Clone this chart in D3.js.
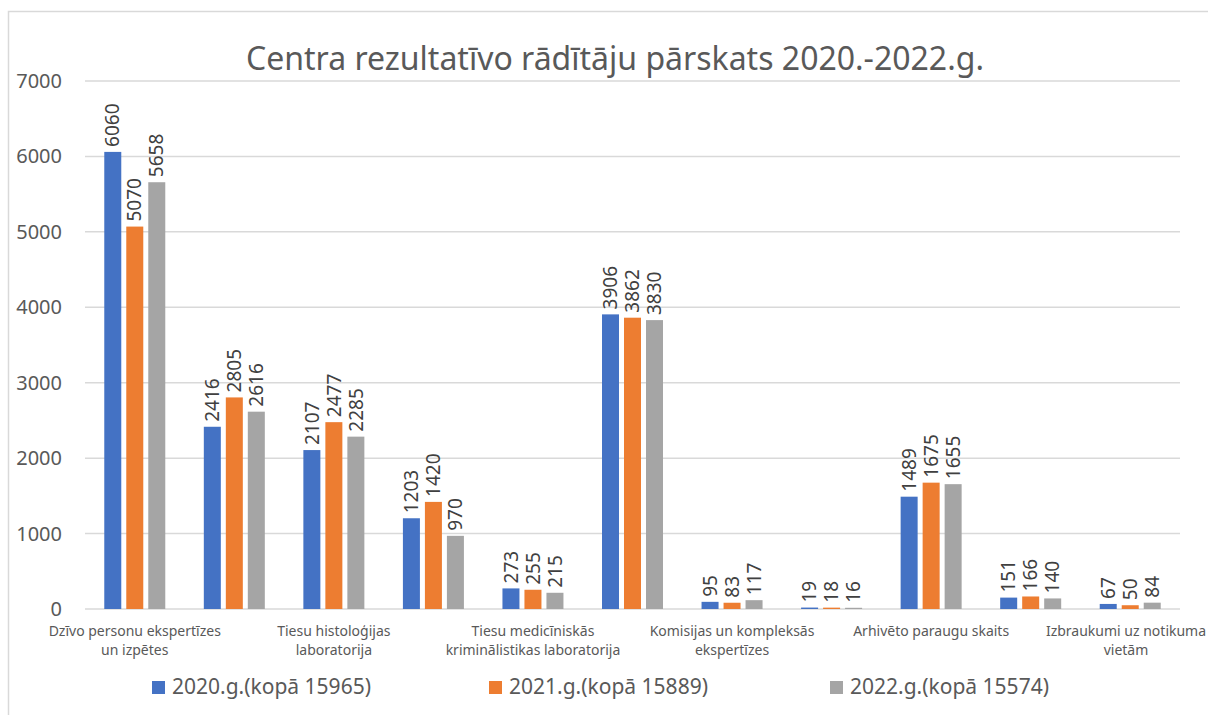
<!DOCTYPE html>
<html><head><meta charset="utf-8">
<script src="https://cdn.jsdelivr.net/npm/d3@7"></script>
<style>body{margin:0;background:#fff}svg{display:block}</style>
</head><body>
<script>
const title = "Centra rezultatīvo rādītāju pārskats 2020.-2022.g.";
const categories = [
  "Dzīvo personu ekspertīzes\nun izpētes", "",
  "Tiesu histoloģijas\nlaboratorija", "",
  "Tiesu medicīniskās\nkriminālistikas laboratorija", "",
  "Komisijas un kompleksās\nekspertīzes", "",
  "Arhivēto paraugu skaits", "",
  "Izbraukumi uz notikuma\nvietām"
];
const seriesNames = ["2020.g.(kopā 15965)", "2021.g.(kopā 15889)", "2022.g.(kopā 15574)"];
const values2020 = [6060, 2416, 2107, 1203, 273, 3906, 95, 19, 1489, 151, 67];
const values2021 = [5070, 2805, 2477, 1420, 255, 3862, 83, 18, 1675, 166, 50];
const values2022 = [5658, 2616, 2285, 970, 215, 3830, 117, 16, 1655, 140, 84];
const yTicks = [0, 1000, 2000, 3000, 4000, 5000, 6000, 7000];
const colors = ["#4472C4", "#ED7D31", "#A5A5A5"];

const W = 1208, H = 715;
const svg = d3.select("body").append("svg").attr("width", W).attr("height", H);
const font = "'Noto Sans', 'Open Sans', sans-serif";
const narrow = "'Liberation Sans Narrow', 'Noto Sans', sans-serif";

// chart border
svg.append("path").attr("d", `M8.5,${H}V11.5H${W}`).attr("fill","none").attr("stroke","#d9d9d9").attr("stroke-width",1.5);

const margin = {left: 85, right: 28, top: 81, bottom: 106};
const x = d3.scaleBand().domain(d3.range(categories.length)).range([margin.left, W - margin.right]);
const y = d3.scaleLinear().domain([0, 7000]).range([H - margin.bottom, margin.top]);

// gridlines
svg.append("g").selectAll("line").data(yTicks).join("line")
  .attr("x1", margin.left).attr("x2", W - margin.right)
  .attr("y1", d => y(d)).attr("y2", d => y(d))
  .attr("stroke", "#d9d9d9").attr("stroke-width", 1.5);

// y tick labels
svg.append("g").selectAll("text").data(yTicks).join("text")
  .attr("x", 62).attr("y", d => y(d)).attr("dy", "0.35em")
  .attr("text-anchor", "end").attr("font-family", font).attr("font-size", 20)
  .attr("fill", "#595959").text(d => d);

const series = [values2020, values2021, values2022];
const barW = 17, gap = 5;
const groupW = barW * 3 + gap * 2;
const xs = d3.scaleLinear().domain([0, 2]).range([0, 2 * (barW + gap)]);

series.forEach((vals, si) => {
  const g = svg.append("g");
  g.selectAll("rect").data(vals).join("rect")
    .attr("x", (d, i) => x(i) + x.bandwidth()/2 - groupW/2 + xs(si))
    .attr("width", barW)
    .attr("y", d => y(d)).attr("height", d => y(0) - y(d))
    .attr("fill", colors[si]);
  g.selectAll("text").data(vals).join("text")
    .attr("transform", (d, i) => {
      const cx = x(i) + x.bandwidth()/2 - groupW/2 + xs(si) + barW/2;
      return `translate(${cx},${y(d) - 5}) rotate(-90)`;
    })
    .attr("dy", "0.35em")
    .attr("font-family", font).attr("font-size", 19).attr("fill", "#404040")
    .text(d => d);
});

// category labels
categories.forEach((c, i) => {
  if (!c) return;
  const t = svg.append("text").attr("text-anchor", "middle")
    .attr("font-family", narrow).attr("font-size", 14).attr("fill", "#595959");
  c.split("\n").forEach((line, li) => {
    t.append("tspan").attr("x", Math.min(x(i) + x.bandwidth()/2, 1126)).attr("y", 636 + li * 19).text(line);
  });
});

// title
svg.append("text").attr("x", 615).attr("y", 70).attr("text-anchor", "middle")
  .attr("font-family", font).attr("font-size", 32).attr("fill", "#595959").text(title);

// legend
const legendX = [152, 489, 830];
seriesNames.forEach((n, i) => {
  svg.append("rect").attr("x", legendX[i]).attr("y", 681).attr("width", 13).attr("height", 13).attr("fill", colors[i]);
  svg.append("text").attr("x", legendX[i] + 20).attr("y", 687).attr("dy", "0.35em")
    .attr("font-family", font).attr("font-size", 21).attr("fill", "#595959").text(n);
});
</script>
</body></html>
